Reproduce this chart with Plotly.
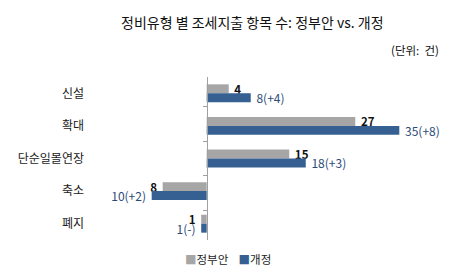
import plotly.graph_objects as go

categories = ["신설", "확대", "단순일몰연장", "축소", "폐지"]
gov_values = [4, 27, 15, -8, -1]
final_values = [8, 35, 18, -10, -1]
gov_labels = ["4", "27", "15", "8", "1"]
final_labels = ["8(+4)", "35(+8)", "18(+3)", "10(+2)", "1(-)"]
series_names = ["정부안", "개정"]

FONT = "Noto Sans CJK KR"
GRAY = "#A6A6A6"
BLUE = "#376092"

ML, MR, MT, MB = 88, 40, 77, 30
W, H = 460, 270
xmin, xmax = -21.57, 38.76
pad = "\u00a0"

fig = go.Figure()
fig.add_trace(go.Bar(
    y=categories, x=gov_values, orientation="h", name=series_names[0],
    marker=dict(color=GRAY, line=dict(width=0)),
    text=[pad + t + pad for t in gov_labels], textposition="outside", cliponaxis=False,
    constraintext="none", showlegend=False,
    textfont=dict(family=FONT, size=11.5, color="#111111", weight="bold"),
))
fig.add_trace(go.Bar(
    y=categories, x=final_values, orientation="h", name=series_names[1],
    marker=dict(color=BLUE, line=dict(width=0)),
    text=[pad + t + pad for t in final_labels], textposition="outside", cliponaxis=False,
    constraintext="none", showlegend=False,
    textfont=dict(family=FONT, size=12, color="#2B4A78"),
))
# invisible trace on second y axis to draw the zero axis with boundary ticks
fig.add_trace(go.Scatter(
    y=categories, x=[0] * len(categories), yaxis="y2", mode="markers",
    marker=dict(opacity=0), showlegend=False, hoverinfo="skip",
))

zero_pos = (0 - xmin) / (xmax - xmin)
pw = W - ML - MR
ph = H - MT - MB


def px_x(px):
    return (px - ML) / pw


def px_y(py):
    return (H - MB - py) / ph


legend_text = (f"<span style='color:{GRAY}'>■</span>{series_names[0]}"
               f"\u00a0\u00a0\u00a0\u00a0<span style='color:{BLUE}'>■</span>{series_names[1]}")

fig.update_layout(
    width=W, height=H,
    margin=dict(l=ML, r=MR, t=MT, b=MB),
    paper_bgcolor="white", plot_bgcolor="white",
    barmode="group", bargap=0.45, bargroupgap=0,
    font=dict(family=FONT, size=11, color="#222222"),
    showlegend=False,
    xaxis=dict(range=[xmin, xmax], visible=False, fixedrange=True),
    yaxis=dict(type="category", autorange="reversed", showline=False, ticks="",
               showgrid=False, ticklabelstandoff=3,
               tickfont=dict(family=FONT, size=12, color="#1a1a1a")),
    yaxis2=dict(type="category", autorange="reversed", overlaying="y", anchor="free",
                position=zero_pos, side="left", showline=True, linecolor="#A0A0A0",
                linewidth=1, ticks="outside", ticklen=4, tickcolor="#A0A0A0",
                tickson="boundaries", showticklabels=False, showgrid=False),
    annotations=[
        dict(text="정비유형 별 조세지출 항목 수: 정부안 vs. 개정", x=px_x(252), y=px_y(22),
             xref="paper", yref="paper", xanchor="center", yanchor="middle", showarrow=False,
             font=dict(family=FONT, size=14, color="#111111")),
        dict(text="(단위:  건)", x=px_x(441), y=px_y(50),
             xref="paper", yref="paper", xanchor="right", yanchor="middle", showarrow=False,
             font=dict(family=FONT, size=11.5, color="#111111")),
        dict(text=legend_text, x=px_x(228), y=px_y(259),
             xref="paper", yref="paper", xanchor="center", yanchor="middle", showarrow=False,
             font=dict(family=FONT, size=11.5, color="#222222")),
    ],
)

fig.write_html("out.html")
